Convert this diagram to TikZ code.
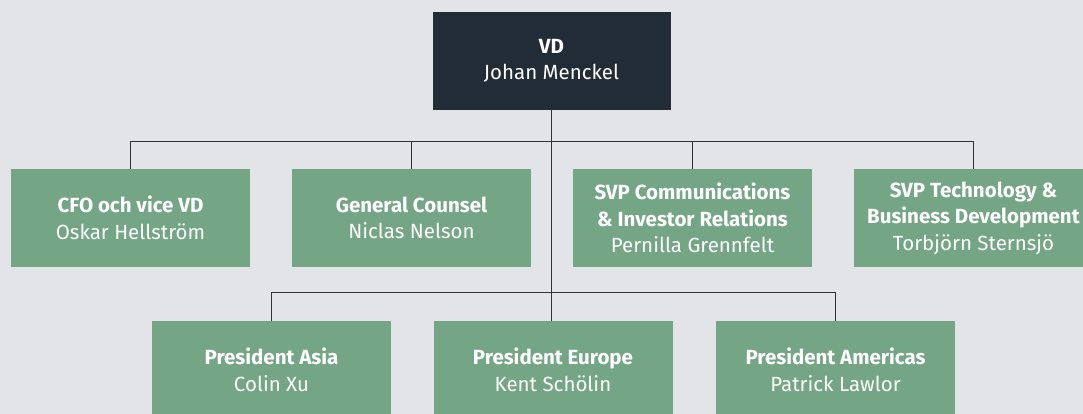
\documentclass[tikz,border=0pt]{standalone}
\usepackage{fontspec}
\setmainfont{Fira Sans}
\definecolor{bgc}{HTML}{E3E4E8}
\definecolor{navy}{HTML}{222C37}
\definecolor{leaf}{HTML}{74A685}
\definecolor{wire}{HTML}{2B323B}
\tikzset{
  box/.style={rectangle, inner sep=0pt, minimum width=239pt, minimum height=98pt,
    align=center, text=white, font=\fontsize{20.5}{26.5}\selectfont},
  topbox/.style={box, fill=navy, minimum width=238pt},
  greenbox/.style={box, fill=leaf},
  wirel/.style={draw=wire, line width=1.3pt}
}
\begin{document}
\begin{tikzpicture}[x=1pt,y=-1pt]
\useasboundingbox (0,0) rectangle (1083,414);
\clip (0,0) rectangle (1083,414);
\fill[bgc] (0,0) rectangle (1083,414);

\node[topbox] (vd) at (551.5,61) {\textbf{VD}\\Johan Menckel};

\node[greenbox] (cfo) at (130.5,218) {\textbf{CFO och vice VD}\\Oskar Hellström};
\node[greenbox] (gc) at (411.5,218) {\textbf{General Counsel}\\Niclas Nelson};
\node[greenbox] (comm) at (692.5,218) {\textbf{SVP Communications}\\\textbf{\& Investor Relations}\\Pernilla Grennfelt};
\node[greenbox] (tech) at (973.5,218) {\textbf{SVP Technology \&}\\\textbf{Business Development}\\Torbjörn Sternsjö};

\node[greenbox] (asia) at (271.5,370) {\textbf{President Asia}\\Colin Xu};
\node[greenbox] (europe) at (553,370) {\textbf{President Europe}\\Kent Schölin};
\node[greenbox] (amer) at (835.5,370) {\textbf{President Americas}\\Patrick Lawlor};

\coordinate (busA) at (551.5,141.5);
\coordinate (busB) at (551.5,292.5);

\draw[wirel] (vd.south) -- (vd.south |- europe.north);
\draw[wirel] (cfo.north) |- (busA) -| (tech.north);
\draw[wirel] (gc.north) -- (gc.north |- busA);
\draw[wirel] (comm.north) -- (comm.north |- busA);
\draw[wirel] (asia.north) |- (busB) -| (amer.north);
\end{tikzpicture}
\end{document}
